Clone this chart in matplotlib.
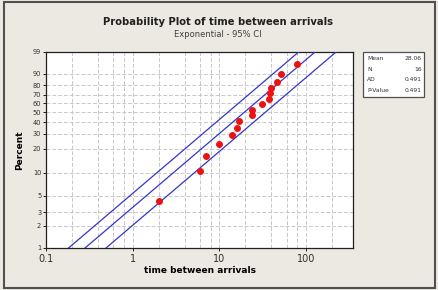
import numpy as np
import matplotlib
matplotlib.use('Agg')
import matplotlib.pyplot as plt
from matplotlib.patches import Rectangle

# data
timeBetween = [2, 6, 7, 10, 14, 16, 17, 24, 24, 31, 38, 39, 40, 47, 52, 78]
percents = [4.27, 10.37, 16.46, 22.56, 28.66, 34.76, 40.85, 46.95,
            53.05, 59.15, 65.24, 71.34, 77.44, 83.54, 89.63, 95.73]
# fitted line and 95% CI bands: x at 1% and at 99%
linePct = [1, 99]
lineX = [[0.182, 83.6], [0.282, 129.2], [0.493, 226.0]]
yTicks = [1, 2, 3, 5, 10, 20, 30, 40, 50, 60, 70, 80, 90, 99]
xMajor = [0.1, 1, 10, 100]
xMajorLabels = ['0.1', '1', '10', '100']
xMinor = [0.2, 0.4, 0.6, 0.8, 2, 4, 6, 8, 20, 40, 60, 80, 200]
statNames = ['Mean', 'N', 'AD', 'P-Value']
statValues = ['28.06', '16', '0.491', '0.491']

BG = '#ECE9E2'


def fwd(p):
    p = np.clip(np.asarray(p, dtype=float), 1e-6, 100 - 1e-6)
    return np.log10(-np.log(1 - p / 100.0))


def inv(w):
    return 100.0 * (1 - np.exp(-np.power(10.0, w)))


fig = plt.figure(figsize=(4.39, 2.90), dpi=100, facecolor=BG)
fig.patches.append(Rectangle((0.008, 0.008), 0.983, 0.986, transform=fig.transFigure,
                             fill=False, edgecolor='#505050', linewidth=1.5))

ax = fig.add_axes([0.105, 0.145, 0.699, 0.677])
ax.set_xscale('log')
ax.set_yscale('function', functions=(fwd, inv))
ax.set_xlim(0.1, 350)
ax.set_ylim(1, 99)

for lx in lineX:
    ax.plot(lx, linePct, color='#3535CC', linewidth=0.9, zorder=3)
ax.plot(timeBetween, percents, 'o', color='#EE1111', markersize=4, zorder=4)

ax.set_xticks(xMajor)
ax.set_xticklabels(xMajorLabels, fontsize=7, color='#303030')
ax.set_xticks(xMinor, minor=True)
ax.xaxis.set_minor_formatter(matplotlib.ticker.NullFormatter())
ax.set_yticks(yTicks)
ax.set_yticklabels([str(t) for t in yTicks], fontsize=4.8, color='#303030')
ax.yaxis.set_minor_locator(matplotlib.ticker.NullLocator())
ax.tick_params(axis='x', which='major', length=2, width=0.6, pad=2)
ax.tick_params(axis='x', which='minor', length=0)
ax.tick_params(axis='y', length=2, width=0.6, pad=1.5)

ax.grid(True, which='both', axis='x', linestyle=(0, (4, 2)), color='#C8C8C8', linewidth=0.7)
ax.grid(True, which='major', axis='y', linestyle=(0, (4, 2)), color='#C8C8C8', linewidth=0.7)
ax.set_axisbelow(True)
for s in ax.spines.values():
    s.set_color('#202020')
    s.set_linewidth(0.9)

ax.set_xlabel('time between arrivals', fontsize=6.5, fontweight='bold', labelpad=2)
ax.set_ylabel('Percent', fontsize=6.5, fontweight='bold', labelpad=6)

fig.text(0.497, 0.925, 'Probability Plot of time between arrivals', ha='center', va='center',
         fontsize=7.2, fontweight='bold', color='#202020')
fig.text(0.497, 0.882, 'Exponential - 95% CI', ha='center', va='center',
         fontsize=6, color='#404040')

# stats box
fig.patches.append(Rectangle((0.827, 0.665), 0.139, 0.156, transform=fig.transFigure,
                             facecolor='white', edgecolor='#505050', linewidth=0.9))
for i in range(len(statNames)):
    y = 0.797 - i * 0.036
    fig.text(0.836, y, statNames[i], fontsize=4.3, va='center', color='#303030')
    fig.text(0.960, y, statValues[i], fontsize=4.3, va='center', ha='right', color='#303030')

fig.savefig('out.png', dpi=100, facecolor=BG)
